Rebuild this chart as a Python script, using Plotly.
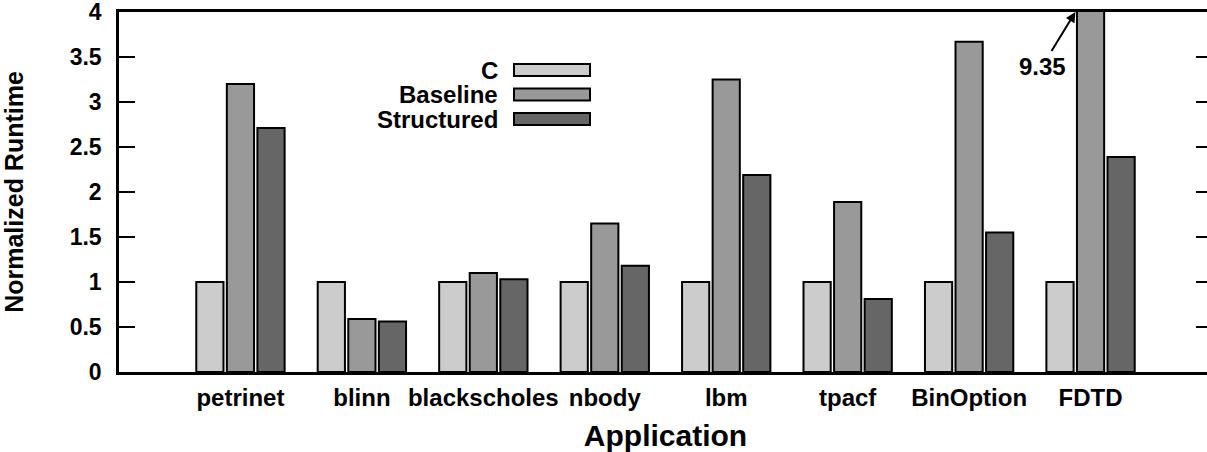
import plotly.graph_objects as go

categories = ["petrinet", "blinn", "blackscholes", "nbody", "lbm", "tpacf", "BinOption", "FDTD"]
series_names = ["C", "Baseline", "Structured"]
c_vals = [1.0, 1.0, 1.0, 1.0, 1.0, 1.0, 1.0, 1.0]
baseline_vals = [3.20, 0.59, 1.10, 1.65, 3.25, 1.89, 3.67, 9.35]
structured_vals = [2.71, 0.56, 1.03, 1.18, 2.19, 0.81, 1.55, 2.39]
y_ticks = [0, 0.5, 1, 1.5, 2, 2.5, 3, 3.5, 4]
y_tick_labels = ["0", "0.5", "1", "1.5", "2", "2.5", "3", "3.5", "4"]
clip_label = "9.35"

colors = ["#cccccc", "#999999", "#666666"]
FONT = "Liberation Sans, Arial, sans-serif"
W, H = 1212, 452
ML, MR, MT, MB = 119, 0, 12, 80

xpos = list(range(len(categories)))
fig = go.Figure()
for name, vals, col in zip(series_names, [c_vals, baseline_vals, structured_vals], colors):
    fig.add_trace(go.Bar(
        x=xpos, y=vals, name=name,
        marker=dict(color=col, line=dict(color="black", width=2)),
        showlegend=False, hoverinfo="skip",
    ))

fig.update_layout(
    width=W, height=H,
    margin=dict(l=ML, r=MR, t=MT, b=MB, autoexpand=False),
    paper_bgcolor="white", plot_bgcolor="white",
    barmode="group", bargap=0.245, bargroupgap=0.11,
    font=dict(family=FONT, size=24, color="black", weight="bold"),
    xaxis=dict(
        range=[-1, 8], tickvals=xpos, ticktext=categories,
        showline=True, linecolor="black", linewidth=2.5, mirror=True,
        ticks="", showgrid=False, zeroline=False,
        tickfont=dict(family=FONT, size=24, weight="bold"),
        ticklabelstandoff=2, ticklabeloverflow="allow",
        title=dict(text="Application", font=dict(family=FONT, size=30, weight="bold"), standoff=17),
    ),
    yaxis=dict(
        range=[0, 4], tickvals=y_ticks, ticktext=y_tick_labels,
        showline=True, linecolor="black", linewidth=2.5, mirror="ticks",
        ticks="inside", ticklen=16, tickwidth=2, tickcolor="black",
        showgrid=False, zeroline=False,
        tickfont=dict(family=FONT, size=23, weight="bold"),
        ticklabelstandoff=10, ticklabeloverflow="allow",
        title=dict(text="Normalized Runtime", font=dict(family=FONT, size=25, weight="bold"), standoff=44),
    ),
)

# legend drawn gnuplot-style (label left, swatch right)
pw = W - ML - MR
ph = H - MT - MB
def px_x(p):
    return (p - ML) / pw
def px_y(p):
    return (H - MB - p) / ph

for i, (name, col) in enumerate(zip(series_names, colors)):
    yc = 70 + 24.5 * i
    fig.add_shape(type="rect", xref="paper", yref="paper",
                  x0=px_x(514), x1=px_x(590), y0=px_y(yc + 6), y1=px_y(yc - 6),
                  fillcolor=col, line=dict(color="black", width=2))
    fig.add_annotation(xref="paper", yref="paper", x=px_x(500), y=px_y(yc),
                       xanchor="right", yanchor="middle", text=name, showarrow=False,
                       font=dict(family=FONT, size=24, weight="bold"))

# clipped value annotation for FDTD baseline
fdtd = categories.index("FDTD")
fig.add_annotation(x=fdtd - 0.125, y=4, xref="x", yref="y", text=clip_label,
                   showarrow=True, arrowhead=2, arrowsize=1, arrowwidth=2, arrowcolor="black",
                   ax=-33, ay=54, font=dict(family=FONT, size=24, weight="bold"))

fig.write_html("out.html", config={"displayModeBar": False},
               post_script="document.body.style.margin='0';document.body.style.overflow='hidden';")
